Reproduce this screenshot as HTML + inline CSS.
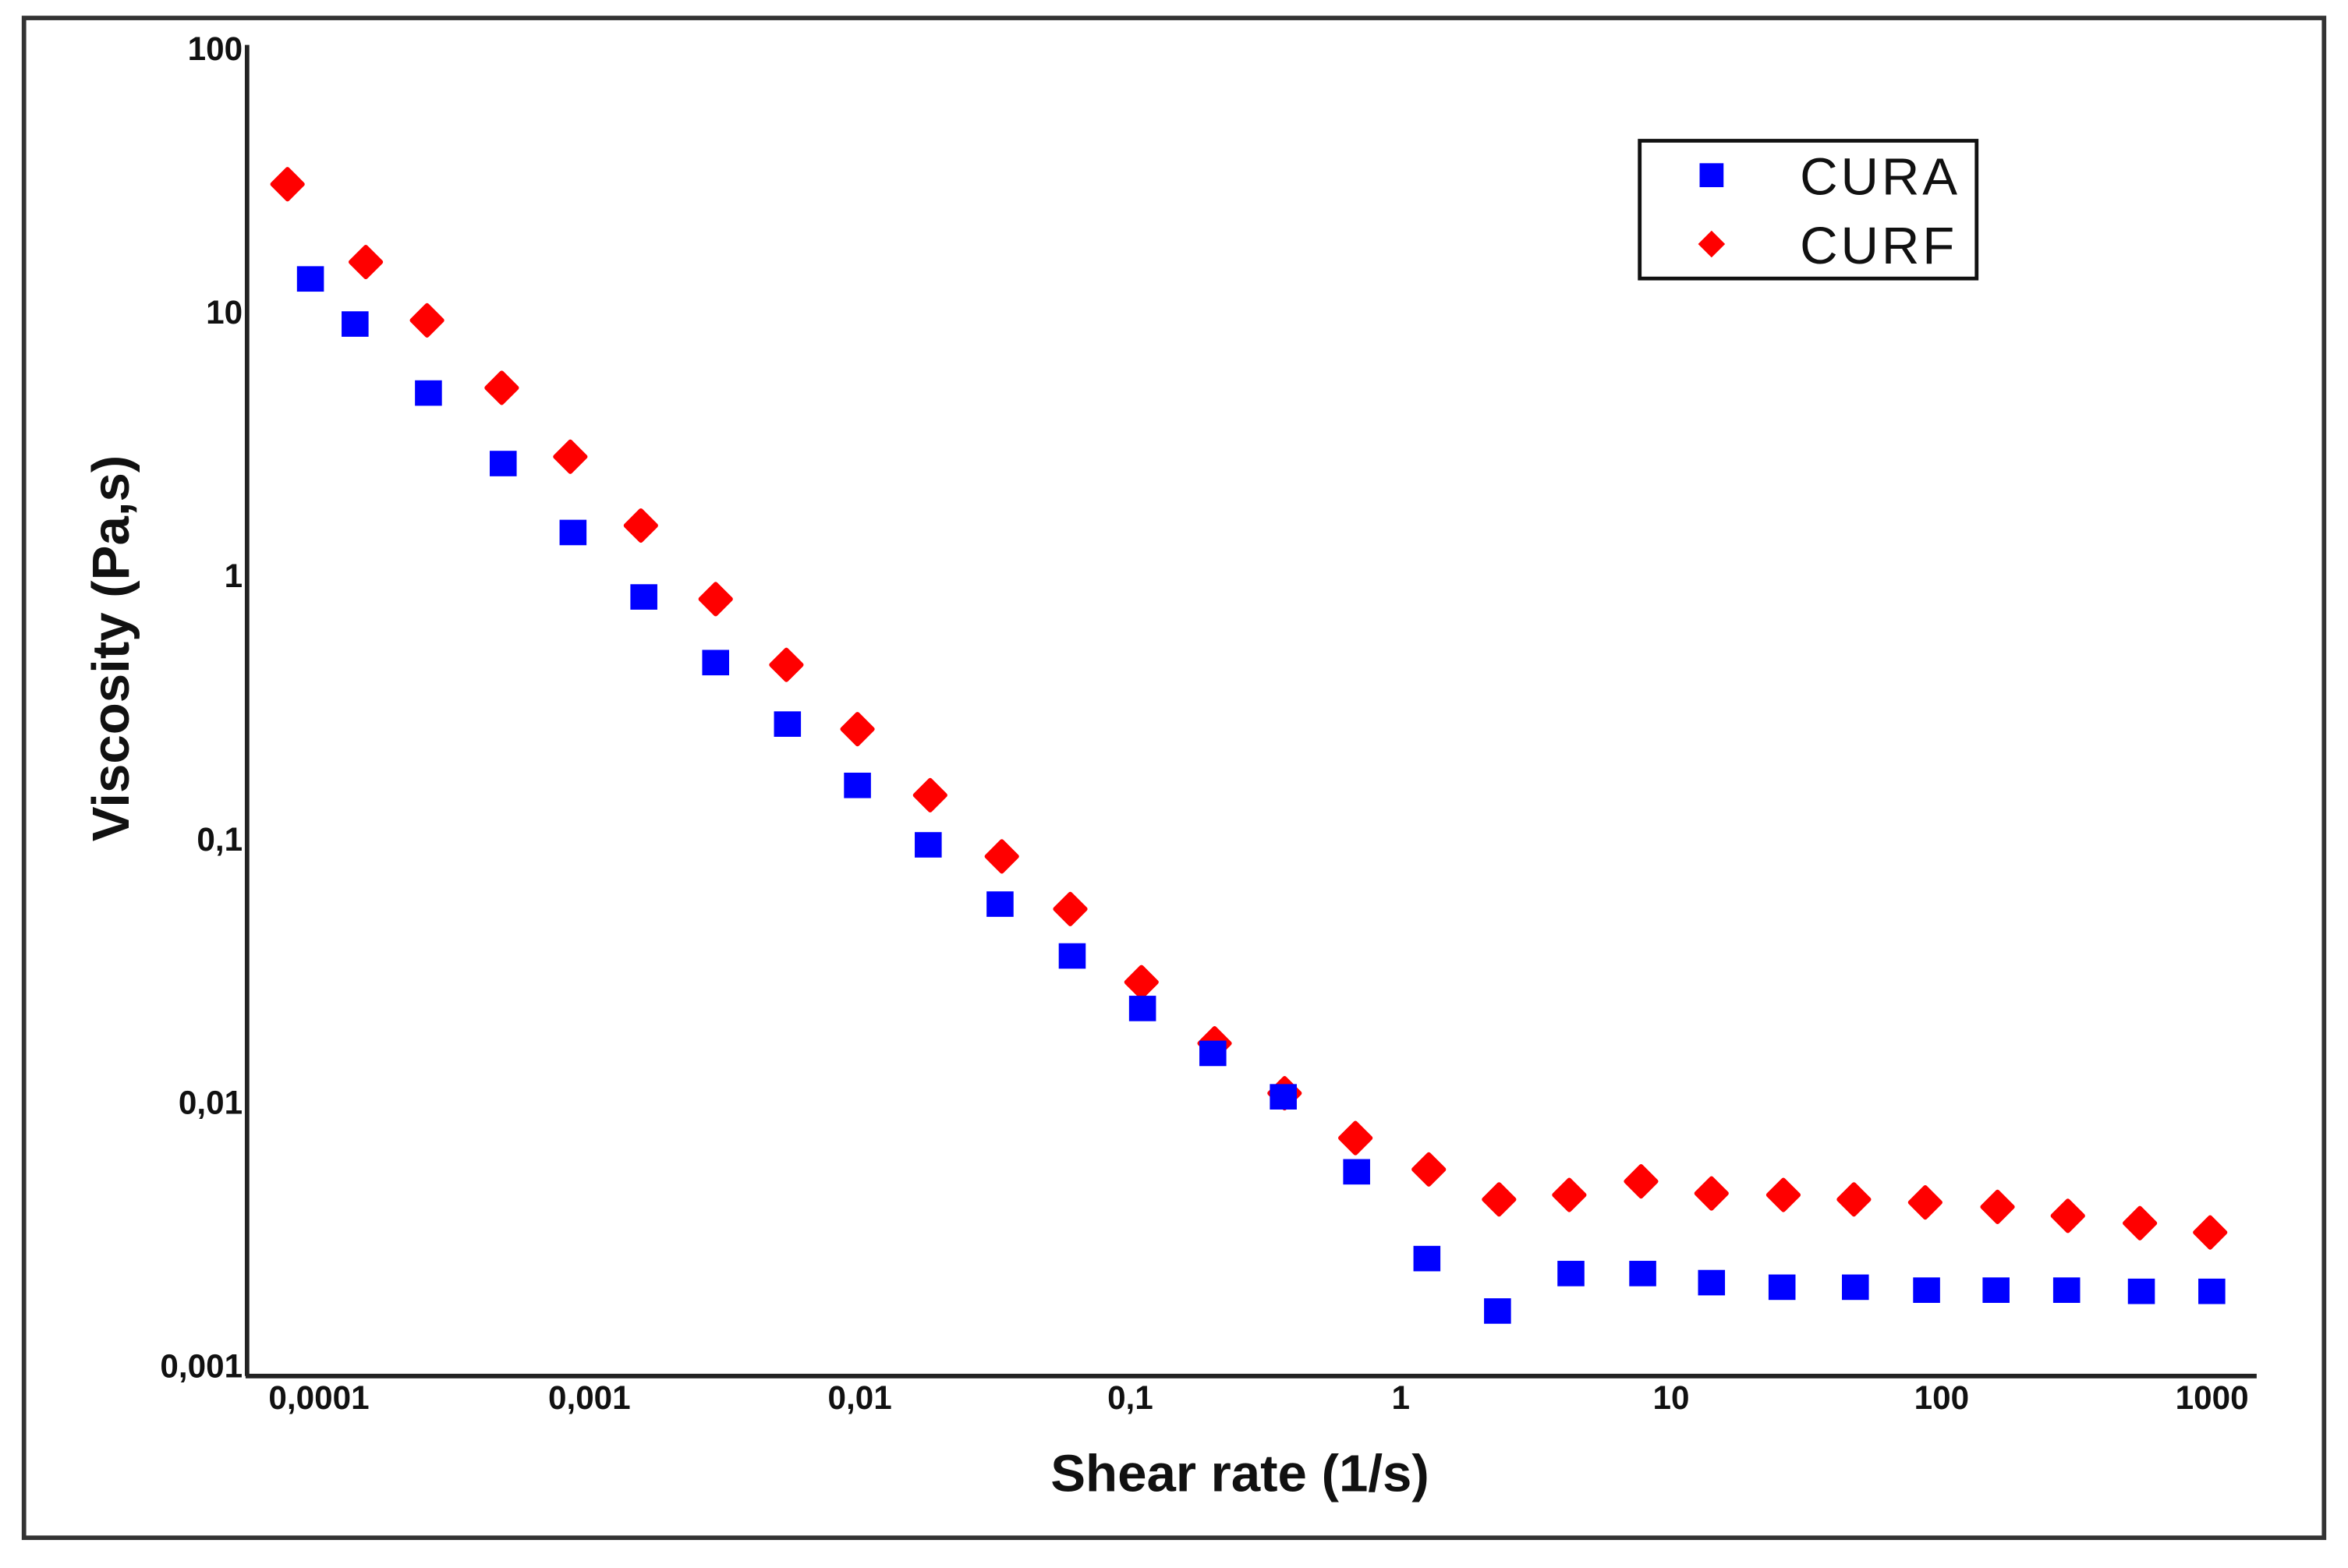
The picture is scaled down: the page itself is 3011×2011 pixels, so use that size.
<!DOCTYPE html>
<html><head><meta charset="utf-8"><style>
html,body{margin:0;padding:0;background:#fff;}
svg{display:block;}
text{font-family:"Liberation Sans",Arial,sans-serif;font-weight:bold;fill:#111;}
</style></head><body>
<svg id="chart" width="3011" height="2011" viewBox="0 0 1568 1047.2" preserveAspectRatio="none" xmlns="http://www.w3.org/2000/svg">
<rect x="16" y="12" width="1536" height="1015" fill="none" stroke="#333" stroke-width="3"/>
<g id="axes"></g>
<g id="marks"></g>
<text x="828" y="996" text-anchor="middle" font-size="35">Shear rate (1/s)</text>
<text transform="translate(86,433) rotate(-90)" text-anchor="middle" font-size="35">Viscosity (Pa,s)</text>
<g>
<rect x="1095" y="94" width="225" height="92" fill="#fff" stroke="#111" stroke-width="2.5"/>
<rect x="1135" y="109" width="16" height="16" fill="#0000ff"/>
<text x="1202" y="130" font-size="35" style="font-weight:normal" letter-spacing="2">CURA</text>
<polygon points="1143,154 1152,163 1143,172 1134,163" fill="#ff0000"/>
<text x="1202" y="176" font-size="35" style="font-weight:normal" letter-spacing="2">CURF</text>
</g>
</svg>
<script>
const xTicks = [0.0001, 0.001, 0.01, 0.1, 1, 10, 100, 1000];
const xTickLabels = ["0,0001","0,001","0,01","0,1","1","10","100","1000"];
const yTicks = [0.001, 0.01, 0.1, 1, 10, 100];
const yTickLabels = ["0,001","0,01","0,1","1","10","100"];
const curaShear = [9.3e-5,1.36e-4,2.54e-4,4.8e-4,8.7e-4,1.59e-3,2.93e-3,5.4e-3,9.8e-3,0.0179,0.033,0.061,0.111,0.202,0.368,0.687,1.25,2.28,4.26,7.85,14.1,25.7,48,88,159,290,548,998];
const curaVisc = [13.2,8.9,4.87,2.63,1.44,0.82,0.462,0.27,0.158,0.094,0.056,0.0356,0.0225,0.0152,0.0104,0.0054,0.00253,0.0016,0.00222,0.00222,0.00205,0.00197,0.00197,0.00192,0.00192,0.00192,0.0019,0.0019];
const curfShear = [7.65e-5,1.49e-4,2.51e-4,4.74e-4,8.5e-4,1.55e-3,2.93e-3,5.35e-3,9.8e-3,0.0182,0.0335,0.06,0.11,0.205,0.372,0.68,1.27,2.31,4.2,7.74,14.1,26,47.4,87,161,293,541,984];
const curfVisc = [30.4,15.4,9.25,5.13,2.81,1.54,0.81,0.456,0.26,0.146,0.0855,0.054,0.0285,0.0167,0.0108,0.0073,0.00555,0.00427,0.00444,0.005,0.0045,0.00444,0.00427,0.00416,0.004,0.0037,0.00347,0.0032];

const NS = "http://www.w3.org/2000/svg";
function xScale(v){ return 213 + (Math.log10(v) + 4) * 180.6; }
function yScale(v){ return 32 + (2 - Math.log10(v)) * 176; }
function mk(tag, attrs, parent){ const e = document.createElementNS(NS, tag); for (const k in attrs) e.setAttribute(k, attrs[k]); parent.appendChild(e); return e; }

const axes = document.getElementById('axes');
const marks = document.getElementById('marks');
let ya = mk('line', {x1:165, y1:30, x2:165, y2:919, stroke:'#222', 'stroke-width':3}, axes);


let xa = mk('line', {x1:164, y1:919, x2:1507, y2:919, stroke:'#222', 'stroke-width':3}, axes);



xTicks.forEach((v, i) => {
  const t = mk('text', {x: xScale(v), y: 941, 'text-anchor':'middle', 'font-size':22}, axes);
  t.textContent = xTickLabels[i];
  
  
});
yTicks.forEach((v, i) => {
  const t = mk('text', {x: 162, y: yScale(v) + 8, 'text-anchor':'end', 'font-size':22}, axes);
  t.textContent = yTickLabels[i];
  
  
});

curfVisc.forEach((v, i) => {
  const cx = xScale(curfShear[i]), cy = yScale(v);
  const p = mk('polygon', {points: `${cx},${cy-10} ${cx+10},${cy} ${cx},${cy+10} ${cx-10},${cy}`, fill:'#ff0000', 'stroke':'#ff0000', 'stroke-width':3, 'stroke-linejoin':'round'}, marks);
  
  
});
curaVisc.forEach((v, i) => {
  const cx = xScale(curaShear[i]), cy = yScale(v);
  const r = mk('rect', {x: cx-9, y: cy-9, width:18, height:17, fill:'#0000ff'}, marks);
  
  
});
</script>
</body></html>
